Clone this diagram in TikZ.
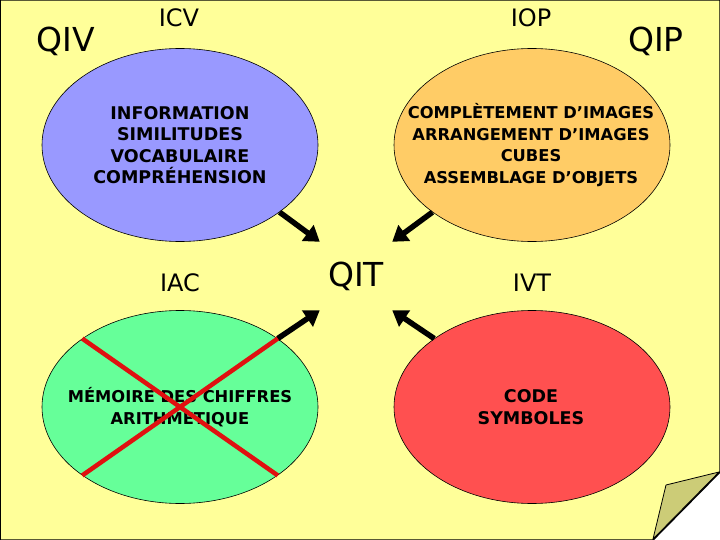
\documentclass[tikz,border=0pt]{standalone}
\usepackage{fontspec}
\setmainfont{DejaVu Sans}
\usetikzlibrary{shapes.geometric,arrows.meta}
\definecolor{bgyellow}{HTML}{FFFF99}
\definecolor{cblue}{HTML}{9999FF}
\definecolor{corange}{HTML}{FFCC66}
\definecolor{cgreen}{HTML}{66FF99}
\definecolor{cred}{HTML}{FF5050}
\definecolor{crossred}{HTML}{E01010}
\definecolor{foldcol}{HTML}{CCCC77}
\tikzset{
  blob/.style={ellipse, draw=black, line width=0.6pt, minimum width=276pt, minimum height=193pt, inner sep=0pt},
  inner/.style={align=center, font=\fontsize{17.5}{21.5}\selectfont\bfseries, inner sep=0pt},
  innersmall/.style={align=center, font=\fontsize{16.3}{21.5}\selectfont\bfseries, inner sep=0pt},
  lab/.style={font=\fontsize{24}{28}\selectfont, inner sep=0pt},
  big/.style={font=\fontsize{33}{38}\selectfont, inner sep=0pt},
  arr/.style={line width=5.5pt, draw=black, -{Triangle[length=15pt,width=19pt]}},
  crossline/.style={line width=4.5pt, draw=crossred},
}
\begin{document}
\begin{tikzpicture}[x=1pt,y=-1pt]
\useasboundingbox (0,0) rectangle (720,540);
\fill[white] (0,0) rectangle (720,540);
\filldraw[fill=bgyellow, draw=black, line width=1.5pt] (0,0) -- (720,0) -- (720,472) -- (653,540) -- (0,540) -- cycle;
\filldraw[fill=foldcol, draw=black, line width=0.8pt, line join=round] (719,472) -- (666,485) -- (653,539) -- cycle;

\node[blob, fill=cblue] (blue) at (180,145) {};
\node[blob, fill=corange] (orange) at (532,145) {};
\node[blob, fill=cgreen] (green) at (180,407) {};
\node[blob, fill=cred] (red) at (532,407) {};

\node[inner] (bluetxt) at (180,145) {INFORMATION\\SIMILITUDES\\VOCABULAIRE\\COMPRÉHENSION};
\node[innersmall] (orangetxt) at (531,145) {COMPLÈTEMENT D’IMAGES\\ARRANGEMENT D’IMAGES\\CUBES\\ASSEMBLAGE D’OBJETS};
\node[innersmall] (greentxt) at (180,407) {MÉMOIRE DES CHIFFRES\\ARITHMETIQUE};
\node[inner] (redtxt) at (531,407) {CODE\\SYMBOLES};

\node[big] (qiv) at (66,41) {QIV};
\node[big] (qip) at (656,41) {QIP};
\node[lab] (icv) at (179,18) {ICV};
\node[lab] (iop) at (531,18) {IOP};
\node[lab] (iac) at (180,283) {IAC};
\node[lab] (ivt) at (532,283) {IVT};
\node[big, minimum width=72pt, minimum height=68pt] (qit) at (356,276) {QIT};

\draw[arr] (blue.-34) -- (qit.north west);
\draw[arr] (orange.-146) -- (qit.north east);
\draw[arr] (green.35) -- (qit.south west);
\draw[arr] (red.145) -- (qit.south east);

\draw[crossline] (green.145) -- (green.-35);
\draw[crossline] (green.35) -- (green.-145);
\end{tikzpicture}
\end{document}
